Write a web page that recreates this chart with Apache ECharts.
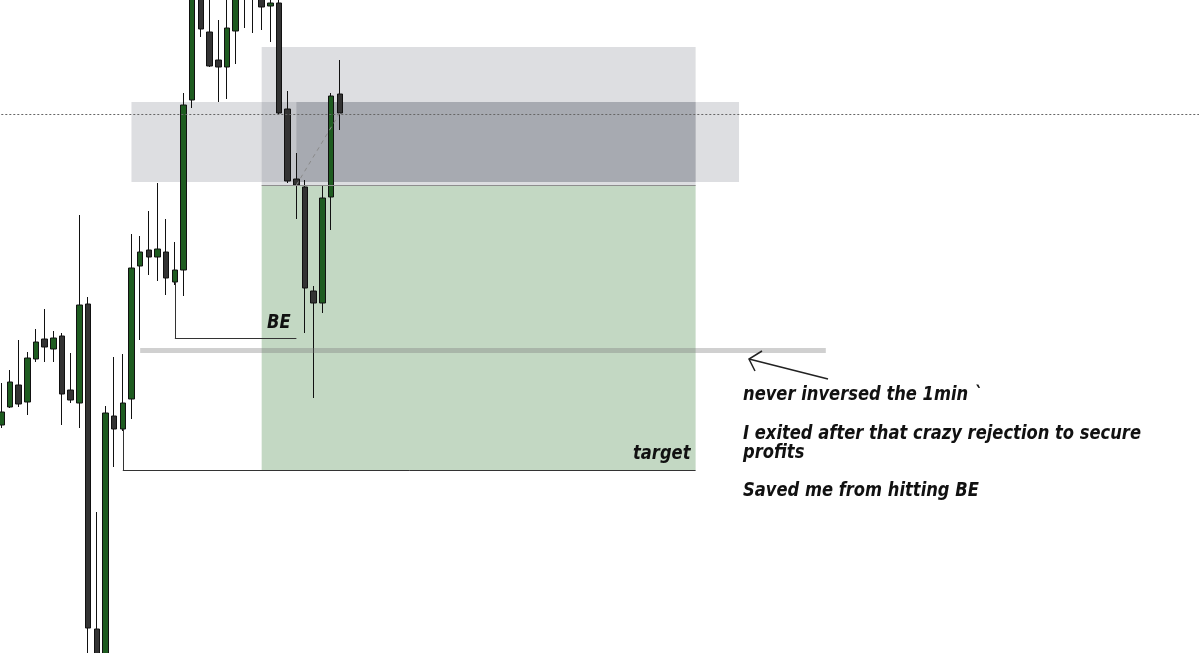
<!DOCTYPE html>
<html>
<head>
<meta charset="utf-8">
<script src="https://cdn.jsdelivr.net/npm/echarts@6/dist/echarts.min.js"></script>
<style>
html,body{margin:0;padding:0;background:#fff;}
#chart{width:1200px;height:653px;}
</style>
</head>
<body>
<div id="chart"></div>
<script>
// ---- data (price units; arbitrary scale) ----
const slotCount = 139;                       // bar slots on the time axis
const categories = Array.from({length: slotCount}, (_, i) => 'b' + i);
const opens  = [228,246,268,251,294,314,304,317,263,250,349,24,-12,237,224,254,387,403,396,401,371,383,553,661,621,593,586,622,658,663,663,647,650,544,474,466,362,350,456,559];
const closes = [241,271,249,295,311,306,315,259,253,348,25,-7,240,224,250,385,401,396,404,375,383,548,673,624,587,586,625,663,678,683,646,650,540,472,468,365,350,455,557,540];
const lows   = [225,245,246,238,291,291,291,228,250,225,-7,-12,-17,186,222,234,313,378,372,358,368,357,545,616,586,551,554,589,625,620,623,611,538,470,434,320,255,340,423,523];
const highs  = [270,283,313,301,324,344,322,320,300,438,356,141,247,296,299,419,417,442,470,434,411,560,683,673,658,633,658,668,683,688,668,658,656,562,500,473,367,468,560,593];

// levels
const entryLevel = 468, stopLevel = 606, targetLevel = 183;
const zoneTop = 551, zoneBottom = 471;
const currentPrice = 539, rejectLevel = 303, beLevel = 315, beStart = 371, targetStart = 224;
const tradeExitLevel = 540, tradeEntryLevel = 468;
// bar indices
const posStart = 30, posEnd = 80, zoneStart = 15, zoneEnd = 85, tradeBar = 34, lastBar = 39;
const rejStart = 16, rejEnd = 95, beBar = 20, beEnd = 34, targetBar = 14;

const candleData = opens.map((o, i) => [o, closes[i], lows[i], highs[i]]);

// texts
const notes = [
  {text: 'never inversed the 1min `', y: 395},
  {text: 'I exited after that crazy rejection to secure', y: 434},
  {text: 'profits', y: 453},
  {text: 'Saved me from hitting BE', y: 491}
];

const FONT = 'italic bold 20px "DejaVu Sans"';
const ctx = document.createElement('canvas').getContext('2d');
ctx.font = FONT;
const sx = 398 / ctx.measureText(notes[1].text).width;

const chart = echarts.init(document.getElementById('chart'), null, {renderer: 'canvas'});

const xName = i => categories[i];

const option = {
  animation: false,
  backgroundColor: '#ffffff',
  grid: {left: 1.3, right: 1, top: 0, bottom: 0},
  xAxis: {type: 'category', data: categories, show: false, boundaryGap: false},
  yAxis: {type: 'value', min: 0, max: 653, show: false, splitLine: {show: false}},
  series: [
    {
      type: 'candlestick',
      data: candleData,
      barWidth: 6,
      clip: false,
      z: 2,
      itemStyle: {
        color: '#1e5c20', color0: '#333333',
        borderColor: '#111111', borderColor0: '#111111', borderWidth: 1
      }
    },
    {
      type: 'line',
      data: [],
      z: 3,
      silent: true,
      markArea: {
        silent: true,
        label: {show: false},
        data: [
          [{xAxis: xName(posStart), yAxis: stopLevel, itemStyle: {color: 'rgba(120,123,134,0.25)'}}, {xAxis: xName(posEnd), yAxis: entryLevel}],
          [{xAxis: xName(zoneStart), yAxis: zoneTop, itemStyle: {color: 'rgba(120,123,134,0.25)'}}, {xAxis: xName(zoneEnd), yAxis: zoneBottom}],
          [{xAxis: xName(tradeBar), yAxis: zoneTop, itemStyle: {color: 'rgba(110,114,126,0.33)'}}, {xAxis: xName(posEnd), yAxis: zoneBottom}],
          [{xAxis: xName(posStart), yAxis: entryLevel, itemStyle: {color: 'rgba(60,130,60,0.31)'}}, {xAxis: xName(posEnd), yAxis: targetLevel}]
        ]
      },
      markLine: {
        silent: true,
        symbol: ['none', 'none'],
        label: {show: false},
        animation: false,
        data: [
          {yAxis: currentPrice, lineStyle: {color: '#666', width: 1, type: [2, 2]}},
          [{xAxis: xName(posStart), yAxis: entryLevel, lineStyle: {color: '#8e8e8e', width: 1, type: 'solid'}}, {xAxis: xName(posEnd), yAxis: entryLevel}],
          [{xAxis: xName(rejStart), yAxis: rejectLevel, lineStyle: {color: 'rgba(120,120,120,0.35)', width: 5, type: 'solid'}}, {xAxis: xName(rejEnd), yAxis: rejectLevel}],
          [{xAxis: xName(beBar), yAxis: beStart, lineStyle: {color: '#333', width: 1, type: 'solid'}}, {xAxis: xName(beBar), yAxis: beLevel}],
          [{xAxis: xName(beBar), yAxis: beLevel, lineStyle: {color: '#333', width: 1, type: 'solid'}}, {xAxis: xName(beEnd), yAxis: beLevel}],
          [{xAxis: xName(targetBar), yAxis: targetStart, lineStyle: {color: '#333', width: 1, type: 'solid'}}, {xAxis: xName(targetBar), yAxis: targetLevel}],
          [{xAxis: xName(targetBar), yAxis: targetLevel, lineStyle: {color: '#333', width: 1, type: 'solid'}}, {xAxis: xName(posEnd), yAxis: targetLevel}],
          [{xAxis: xName(tradeBar), yAxis: tradeEntryLevel, lineStyle: {color: '#8a8a8a', width: 1, type: [4, 4]}}, {xAxis: xName(lastBar), yAxis: tradeExitLevel}]
        ]
      }
    }
  ],
  graphic: [
    ...notes.map(n => ({
      type: 'text', x: 743, y: n.y, scaleX: sx, silent: true, z: 10,
      style: {text: n.text, x: 0, y: 0, font: FONT, fill: '#111', verticalAlign: 'middle', align: 'left'}
    })),
    {type: 'text', x: 267, y: 323, scaleX: sx, z: 10, silent: true,
     style: {text: 'BE', x: 0, y: 0, font: FONT, fill: '#111', verticalAlign: 'middle', align: 'left'}},
    {type: 'text', x: 633, y: 454, scaleX: sx, z: 10, silent: true,
     style: {text: 'target', x: 0, y: 0, font: FONT, fill: '#111', verticalAlign: 'middle', align: 'left'}},
    {type: 'polyline', z: 10, silent: true, shape: {points: [[828, 379], [749, 359]]}, style: {stroke: '#222', lineWidth: 1.5, fill: null}},
    {type: 'polyline', z: 10, silent: true, shape: {points: [[762, 351], [749, 359], [755, 371]]}, style: {stroke: '#222', lineWidth: 1.5, fill: null}}
  ]
};
chart.setOption(option);
</script>
</body>
</html>
